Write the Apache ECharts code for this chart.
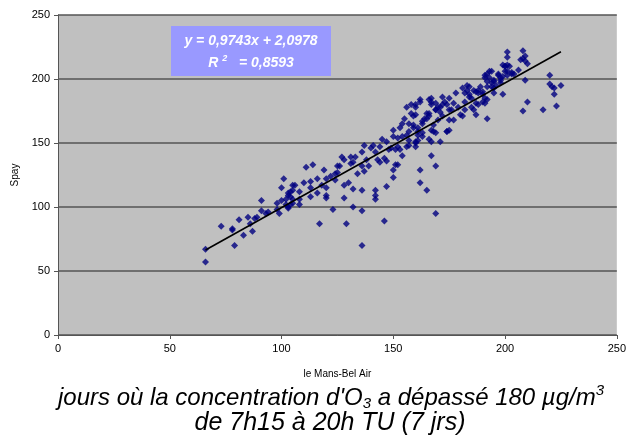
<!DOCTYPE html>
<html>
<head>
<meta charset="utf-8">
<script src="https://cdn.jsdelivr.net/npm/echarts@6/dist/echarts.min.js"></script>
<style>
html,body{margin:0;padding:0;background:#fff;}
#c{width:629px;height:439px;}
</style>
</head>
<body>
<div id="c"></div>
<script>
// Observations: le Mans-Bel Air (x) vs Spay (y), µg/m3
var xValues = [
66,66,73,79,78,78,81,83,85,86,87,88,89,91,91,93,94,98,98,99,100,100,101,102,103,103,104,103,104,105,105,105,
102,103,104,105,106,108,108,108,110,111,113,113,113,114,116,116,117,118,119,120,120,120,120,122,123,124,124,125,125,126,127,128,128,128,129,130,131,131,132,132,132,133,134,136,136,136,136,136,137,137,138,139,140,141,142,142,
142,142,143,144,144,145,146,146,147,147,147,148,149,150,150,150,150,151,152,151,152,153,154,154,155,156,156,156,157,158,159,159,160,160,160,161,161,162,162,162,163,163,164,165,165,166,166,167,167,168,168,169,169,169,170,171,172,172,172,
170,174,175,175,176,177,177,178,179,180,181,181,182,182,183,184,184,185,185,186,187,187,188,188,189,190,191,191,192,191,192,192,192,193,194,194,195,195,196,197,198,198,199,199,
199,200,201,201,201,201,202,203,204,206,207,208,208,209,209,210,208,209,210,217,220,220,221,222,222,223,225,
160,162,158,157,159,161,163,165,166,167,167,169,169,171,173,174,175,163,166,167,169,171,174,182,183,184,186,187,188,190,190,192,194,191,193,195,197,198,200,201,203,195,200,152,153,154,157,160,161,157,160,167,175
];
var yValues = [
67,57,85,70,83,82,90,78,92,87,81,91,92,97,105,95,96,103,98,95,105,115,122,102,109,111,112,100,102,103,117,106,
106,99,108,113,117,106,102,112,119,131,120,115,108,133,122,111,87,117,129,115,109,107,122,124,98,121,126,132,127,132,139,137,107,117,87,119,139,134,100,114,135,139,126,113,97,70,143,132,128,148,137,132,146,148,106,113,
109,143,137,147,135,153,89,138,116,136,151,145,146,160,123,155,129,133,133,145,147,145,140,165,169,156,147,178,159,180,162,171,151,180,172,156,162,129,119,184,167,158,169,173,113,171,184,140,180,164,159,132,176,95,168,174,186,180,171,
178,159,168,185,176,181,168,189,178,172,171,193,182,176,191,188,194,185,178,176,190,172,180,191,194,188,185,181,184,201,204,169,198,201,194,206,198,189,195,203,199,197,211,202,
188,210,206,221,217,203,210,205,204,207,215,216,222,218,214,212,175,199,182,176,203,196,194,193,188,179,195,
178,182,173,165,164,159,165,169,173,182,185,181,176,178,182,180,176,155,153,160,158,151,159,189,195,186,191,181,189,182,190,194,197,203,206,199,204,201,206,211,204,193,210,154,162,155,152,150,152,148,147,151,160
];
var xTicks = [0, 50, 100, 150, 200, 250];
var yTicks = [0, 50, 100, 150, 200, 250];
var slope = 0.9743, intercept = 2.0978, r2 = 0.8593;

var points = xValues.map(function (x, i) { return [x, yValues[i]]; });
var xMin = Math.min.apply(null, xValues), xMax = Math.max.apply(null, xValues);
var trend = [[xMin, slope * xMin + intercept], [xMax, slope * xMax + intercept]];
function fmt(v) { return String(v).replace('.', ','); }

var chart = echarts.init(document.getElementById('c'), null, {renderer: 'canvas'});
var FONT = '"Liberation Sans", Arial, sans-serif';
chart.setOption({
  animation: false,
  grid: {left: 58, right: 12, top: 15, bottom: 104, show: true, backgroundColor: '#C0C0C0', borderWidth: 0},
  xAxis: {
    type: 'value', min: xTicks[0], max: xTicks[xTicks.length - 1], interval: 50,
    name: 'le Mans-Bel Air', nameLocation: 'middle', nameGap: 34,
    nameTextStyle: {fontFamily: FONT, fontSize: 10, color: '#000'},
    axisLine: {show: true, onZero: false, lineStyle: {color: '#555', width: 1}},
    axisTick: {show: true, inside: false, length: 4, lineStyle: {color: '#555'}},
    axisLabel: {fontFamily: FONT, fontSize: 11, color: '#000', margin: 8},
    splitLine: {show: false}
  },
  yAxis: {
    type: 'value', min: yTicks[0], max: yTicks[yTicks.length - 1], interval: 50,
    name: 'Spay', nameLocation: 'middle', nameGap: 33, nameRotate: 90,
    nameTextStyle: {fontFamily: FONT, fontSize: 10, color: '#000'},
    axisLine: {show: true, onZero: false, lineStyle: {color: '#555', width: 1}},
    axisTick: {show: true, inside: false, length: 4, lineStyle: {color: '#555'}},
    axisLabel: {fontFamily: FONT, fontSize: 11, color: '#000', margin: 8},
    splitLine: {show: true, lineStyle: {color: '#555', width: 1.5}}
  },
  series: [
    {
      type: 'scatter', data: points, symbol: 'diamond', symbolSize: 7,
      itemStyle: {color: '#000080'}, z: 3
    },
    {
      type: 'line', data: trend, symbol: 'none', lineStyle: {color: '#000', width: 1.6}, z: 4
    }
  ],
  graphic: [
    {type: 'rect', shape: {x: 171, y: 26, width: 160, height: 50}, style: {fill: '#9999FF'}, z: 10},
    {type: 'text', x: 251, y: 41, z: 11, style: {text: 'y = ' + fmt(slope) + 'x + ' + fmt(intercept), fill: '#fff',
      font: 'italic bold 14px ' + FONT, align: 'center', verticalAlign: 'middle'}},
    {type: 'text', x: 251, y: 63, z: 11, style: {
      text: '{b|R }{s|2}{b|   = ' + fmt(r2) + '}', align: 'center', verticalAlign: 'middle',
      rich: {b: {fill: '#fff', font: 'italic bold 14px ' + FONT},
             s: {fill: '#fff', font: 'italic bold 9px ' + FONT, padding: [0, 0, 8, 0]}}}},
    {type: 'text', x: 322, y: 1, style: {text: '(Spay)', fill: '#000', font: 'bold 16px ' + FONT, align: 'center', verticalAlign: 'bottom'}},
    {type: 'text', x: 331, y: 398, style: {
      text: '{t|jours où la concentration d\'O}{sub|3}{t| a dépassé 180 µg/m}{sup|3}', align: 'center', verticalAlign: 'middle',
      rich: {t: {fill: '#000', font: 'italic 24px ' + FONT},
             sub: {fill: '#000', font: 'italic 15px ' + FONT, padding: [12, 0, 0, 0]},
             sup: {fill: '#000', font: 'italic 15px ' + FONT, padding: [0, 0, 14, 0]}}}},
    {type: 'text', x: 330, y: 423, style: {text: 'de 7h15 à 20h TU (7 jrs)', fill: '#000', font: 'italic 25px ' + FONT, align: 'center', verticalAlign: 'middle'}}
  ]
});
</script>
</body>
</html>
